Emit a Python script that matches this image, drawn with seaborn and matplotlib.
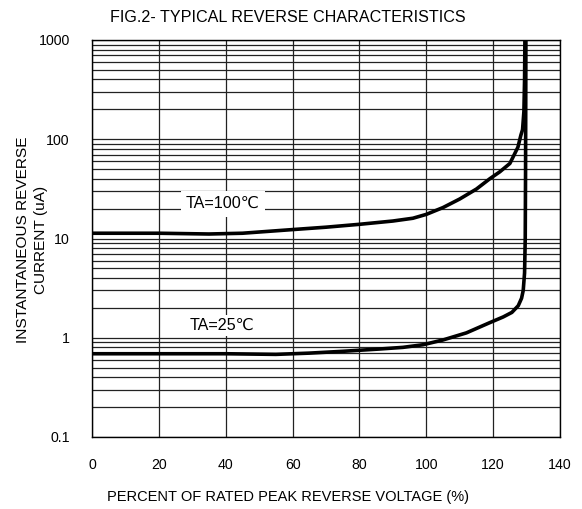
import numpy as np
import pandas as pd
import matplotlib
matplotlib.use("Agg")
import matplotlib.pyplot as plt
import seaborn as sns
from matplotlib.ticker import FixedLocator, LogLocator, NullFormatter, FixedFormatter

sns.set_style("white")
plt.rcParams['font.family'] = ['Liberation Sans', 'DejaVu Sans']
plt.rcParams['text.color'] = 'black'

# 100°C curve
x_100 = [0, 20, 35, 45, 60, 70, 80, 90, 96, 100, 105, 110, 115, 119, 122, 125, 127.4, 128.3, 128.8, 129.2, 129.4, 129.5]
y_100 = [11.3, 11.3, 11.1, 11.3, 12.3, 13.0, 13.9, 15.0, 16.0, 17.5, 20.5, 25, 31.5, 40, 47, 57, 83, 110, 125, 190, 400, 1000]
# 25°C curve
x_25 = [0, 20, 40, 55, 65, 75, 86, 93, 99, 105, 112, 119, 123, 125.6, 127.5, 128.5, 129.0, 129.4, 129.6, 129.7, 129.8]
y_25 = [0.69, 0.69, 0.69, 0.68, 0.70, 0.73, 0.77, 0.80, 0.85, 0.95, 1.12, 1.42, 1.62, 1.80, 2.1, 2.5, 3.0, 4.5, 10, 50, 1000]

x_ticks = [0, 20, 40, 60, 80, 100, 120, 140]
y_ticks = [0.1, 1, 10, 100, 1000]
y_tick_labels = ["0.1", "1", "10", "100", "1000"]

df = pd.concat([
    pd.DataFrame({"x": x_100, "y": y_100, "series": "TA=100℃"}),
    pd.DataFrame({"x": x_25, "y": y_25, "series": "TA=25℃"}),
])

W, H = 582, 509
fig = plt.figure(figsize=(W/100, H/100), dpi=100)
ax = fig.add_axes([92/W, 72/H, 468/W, 397/H])
ax.set_yscale("log")
ax.set_xlim(0, 140)
ax.set_ylim(0.1, 1000)

# grid
ax.xaxis.set_major_locator(FixedLocator(x_ticks))
ax.yaxis.set_major_locator(FixedLocator(y_ticks))
ax.yaxis.set_major_formatter(FixedFormatter(y_tick_labels))
ax.yaxis.set_minor_locator(LogLocator(base=10, subs=np.arange(2, 10)))
ax.yaxis.set_minor_formatter(NullFormatter())
ax.grid(True, which="major", axis="both", color="#222222", linewidth=0.9)
ax.grid(True, which="minor", axis="y", color="#222222", linewidth=0.9)
ax.set_axisbelow(True)

sns.lineplot(data=df, x="x", y="y", units="series", estimator=None, sort=False,
             color="black", linewidth=2.6, ax=ax, legend=False)

for s in ax.spines.values():
    s.set_color("black")
    s.set_linewidth(1.0)

ax.tick_params(axis="both", which="both", length=0, labelsize=10.2, colors="black")
ax.tick_params(axis="x", pad=15)
ax.tick_params(axis="y", pad=16)
ax.set_xlabel("")
ax.set_ylabel("")

fig.text(288/W, 1 - 17/H, "FIG.2- TYPICAL REVERSE CHARACTERISTICS", fontsize=11.6,
         ha="center", va="center")
fig.text(288/W, 1 - 497/H, "PERCENT OF RATED PEAK REVERSE VOLTAGE (%)", fontsize=10.5,
         ha="center", va="center")
fig.text(32/W, 1 - 240/H, "INSTANTANEOUS REVERSE\nCURRENT (uA)", fontsize=11.1,
         ha="center", va="center", rotation=90, multialignment="center", linespacing=1.35)

ax.text(39.2, 22.5, "TA=100℃", fontsize=11.6, ha="center", va="center",
        bbox=dict(facecolor="white", edgecolor="none", pad=4))
ax.text(38.9, 1.33, "TA=25℃", fontsize=11.6, ha="center", va="center",
        bbox=dict(facecolor="white", edgecolor="none", pad=2))

fig.savefig("out.png", dpi=100)
